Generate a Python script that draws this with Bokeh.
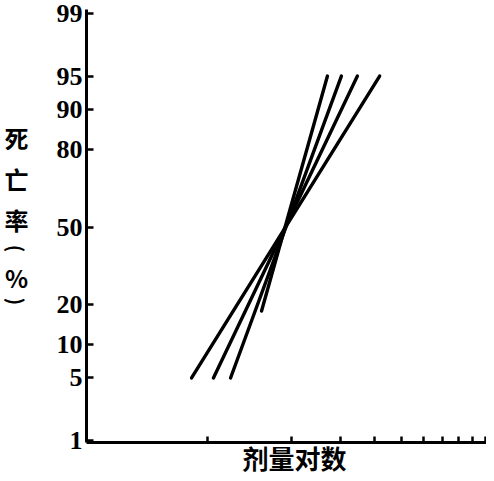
import math
from statistics import NormalDist
from bokeh.plotting import figure
from bokeh.models import FixedTicker, Range1d, ColumnDataSource, Label
from bokeh.embed import file_html
from bokeh.resources import INLINE

# ---- data ----
tick_pct = [1, 5, 10, 20, 50, 80, 90, 95, 99]
tick_labels = ["1", "5", "10", "20", "50", "80", "90", "95", "99"]
x_ticks = [1, 2, 3, 4, 5, 6, 7, 8, 9, 10]

line_dose = [[1.564, 2.70], [1.21, 3.03], [1.05, 3.46], [0.876, 4.16]]
line_pct = [[18, 95], [5, 95], [5, 95], [5, 95]]

x_label = "剂量对数"
y_label_chars = ["死", "亡", "率", "(", "%", ")"]

nd = NormalDist()


def probit(pc):
    return nd.inv_cdf(pc / 100.0)


# axis extents (dose and probit units)
x_axis_start, x_axis_end = 0.367, 10.08
y_axis_start, y_axis_end = -2.3479, 2.3699

W, H = 486, 476
p = figure(width=W, height=H, x_axis_type="log",
           x_range=Range1d(0.180, 10.08), y_range=Range1d(-2.7184, 2.4679),
           output_backend="svg", toolbar_location=None,
           min_border_left=0, min_border_right=0, min_border_top=0,
           min_border_bottom=0)

p.xgrid.visible = False
p.ygrid.visible = False
p.outline_line_color = None

ys = [[probit(v) for v in row] for row in line_pct]
src = ColumnDataSource(data=dict(xs=line_dose, ys=ys))
p.multi_line(xs="xs", ys="ys", source=src, line_color="black",
             line_width=3.4, line_cap="round")

# y axis (probit scale)
yt = [probit(v) for v in tick_pct]
p.yaxis.fixed_location = x_axis_start
p.yaxis.bounds = (y_axis_start, y_axis_end)
p.yaxis.ticker = FixedTicker(ticks=yt)
p.yaxis.major_label_overrides = {t: s for t, s in zip(yt, tick_labels)}
p.yaxis.major_tick_in = 7
p.yaxis.major_tick_out = 0
p.yaxis.minor_tick_line_color = None
p.yaxis.major_label_standoff = 4
p.yaxis.major_label_text_font = "Liberation Serif"
p.yaxis.major_label_text_font_style = "bold"
p.yaxis.major_label_text_font_size = "26px"
p.yaxis.major_label_text_color = "black"

# x axis (log dose)
p.xaxis.fixed_location = y_axis_start
p.xaxis.bounds = (x_axis_start, x_axis_end)
p.xaxis.ticker = FixedTicker(ticks=x_ticks)
p.xaxis.major_label_overrides = {t: "" for t in x_ticks}
p.xaxis.major_label_text_font_size = "0px"
p.xaxis.major_tick_in = 6
p.xaxis.major_tick_out = 0
p.xaxis.minor_tick_line_color = None
p.xaxis.major_label_standoff = 0

for ax in (p.xaxis, p.yaxis):
    ax.axis_line_width = 3
    ax.axis_line_color = "black"
    ax.major_tick_line_width = 2.5
    ax.major_tick_line_color = "black"

# axis titles (screen pixels inside the frame)
p.add_layout(Label(x=294, y=19, x_units="screen", y_units="screen",
                   text=x_label, text_font="Noto Sans CJK SC",
                   text_font_style="bold", text_font_size="26px",
                   text_align="center", text_baseline="middle",
                   text_color="black"))
# vertical title: upright characters, brackets turned as in vertical writing
y_char_pos = [339, 298, 257, 228, 199, 175]
for ch, yy in zip(y_label_chars, y_char_pos):
    is_bracket = ch in "()"
    p.add_layout(Label(x=16, y=yy, x_units="screen", y_units="screen",
                       text=ch, text_font="Noto Sans CJK SC",
                       text_font_style="bold",
                       text_font_size="20px" if is_bracket else "24px",
                       angle=-math.pi / 2 if is_bracket else 0,
                       text_align="center", text_baseline="middle",
                       text_color="black"))

open("out.html", "w").write(file_html(p, INLINE))
